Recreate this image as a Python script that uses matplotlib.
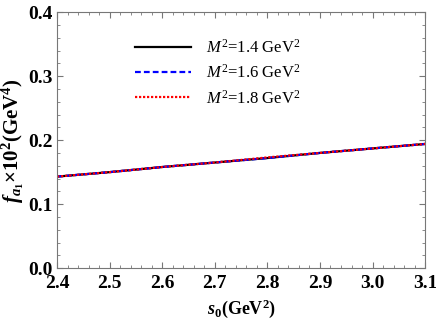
import numpy as np
import matplotlib.pyplot as plt

# threshold parameter s0 (GeV^2)
s0 = [2.4, 2.5, 2.6, 2.7, 2.8, 2.9, 3.0, 3.1]

# f_a1 x 10^2 (GeV^4) for three Borel masses
f_m14 = [0.143, 0.150, 0.158, 0.165, 0.172, 0.180, 0.187, 0.194]
f_m16 = [0.143, 0.150, 0.158, 0.165, 0.172, 0.180, 0.187, 0.194]
f_m18 = [0.143, 0.150, 0.158, 0.165, 0.173, 0.180, 0.187, 0.194]

labels = [r"$M^2$=1.4 GeV$^2$", r"$M^2$=1.6 GeV$^2$", r"$M^2$=1.8 GeV$^2$"]

plt.rcParams["font.family"] = "Liberation Serif"
plt.rcParams["mathtext.fontset"] = "custom"
plt.rcParams["mathtext.rm"] = "Liberation Serif"
plt.rcParams["mathtext.it"] = "Liberation Serif:italic"
plt.rcParams["mathtext.bf"] = "Liberation Serif:bold"
plt.rcParams["mathtext.bfit"] = "Liberation Serif:italic:bold"

fig = plt.figure(figsize=(4.36, 3.27), dpi=100)
ax = fig.add_axes([0.131, 0.180, 0.844, 0.783])

ax.plot(s0, f_m14, color="black", lw=1.6, ls="-", label=labels[0])
ax.plot(s0, f_m16, color="blue", lw=1.6, ls=(0, (2.6, 1.4)), label=labels[1])
ax.plot(s0, f_m18, color="red", lw=1.6, ls=(0, (1.0, 0.8)), label=labels[2])

ax.set_xlim(2.4, 3.1)
ax.set_ylim(0.0, 0.4)
ax.set_xticks(np.arange(2.4, 3.11, 0.1))
ax.set_xticklabels(["2.4", "2.5", "2.6", "2.7", "2.8", "2.9", "3.0", "3.1"])
ax.set_yticks([0.0, 0.1, 0.2, 0.3, 0.4])
ax.set_yticklabels(["0.0", "0.1", "0.2", "0.3", "0.4"])
ax.set_xticks(np.arange(2.4, 3.1, 0.02), minor=True)
ax.set_yticks(np.arange(0.0, 0.4, 0.02), minor=True)

ax.tick_params(which="both", direction="in", top=True, right=True, color="#777777")
ax.tick_params(which="major", length=4, width=0.8, labelsize=14)
ax.tick_params(axis="x", which="major", pad=5)
ax.tick_params(axis="y", which="major", pad=3)
ax.tick_params(which="minor", length=2, width=0.6)
for lab in ax.get_xticklabels() + ax.get_yticklabels():
    lab.set_fontweight("bold")
for sp in ax.spines.values():
    sp.set_color("#777777")
    sp.set_linewidth(0.8)

ax.set_xlabel(r"$\mathbfit{s}_{\mathbf{0}}$(GeV$^{\mathbf{2}}$)", fontsize=13, fontweight="bold", labelpad=4)
ax.set_ylabel(r"$\mathbfit{f}_{\mathbfit{a}_{\mathbf{1}}}$×10$^{\mathbf{2}}$(GeV$^{\mathbf{4}}$)",
              fontsize=15, fontweight="bold", labelpad=2)

ax.legend(loc="upper left", bbox_to_anchor=(0.17, 0.955), frameon=False, fontsize=12,
          handlelength=3.4, handletextpad=0.9, labelspacing=0.45)

fig.savefig("out.png", dpi=100)
